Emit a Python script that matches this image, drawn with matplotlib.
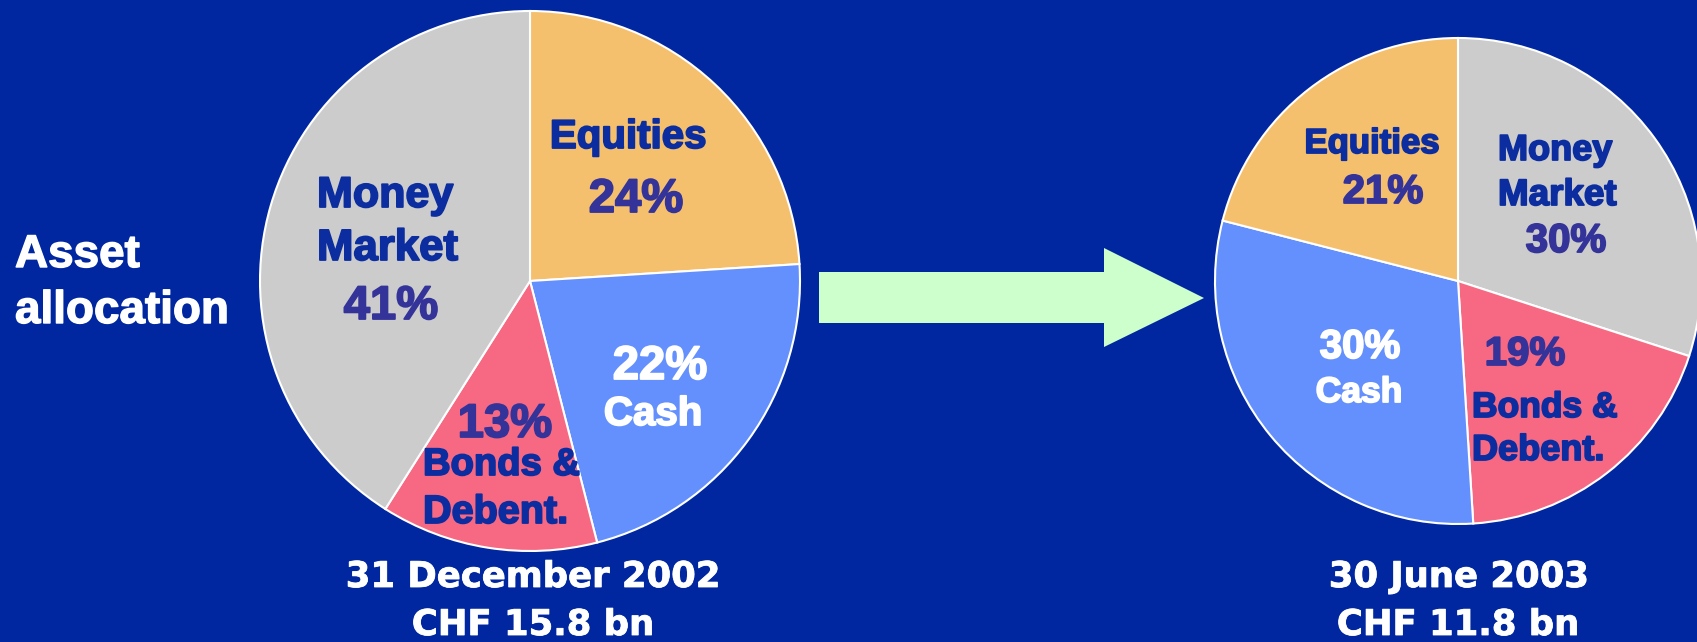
import matplotlib
matplotlib.use("Agg")
import matplotlib.pyplot as plt
import matplotlib.patheffects as pe
from matplotlib.patches import Polygon

# data
dates = ["31 December 2002", "30 June 2003"]
totals = ["CHF 15.8 bn", "CHF 11.8 bn"]

# slices listed clockwise from 12 o'clock
cats_2002 = ["Equities", "Cash", "Bonds & Debent.", "Money Market"]
vals_2002 = [24, 22, 13, 41]
cats_2003 = ["Money Market", "Bonds & Debent.", "Cash", "Equities"]
vals_2003 = [30, 19, 30, 21]

colors = {
    "Equities": "#F5C06E",
    "Cash": "#6390FD",
    "Bonds & Debent.": "#F76983",
    "Money Market": "#CCCCCC",
}
bg = "#0027A0"
dark = "#0B2DA0"
purple = "#333399"

W, H = 1697, 642
plt.rcParams["font.family"] = ["Liberation Sans", "DejaVu Sans"]
plt.rcParams["font.weight"] = "bold"

fig = plt.figure(figsize=(W / 100, H / 100), dpi=100, facecolor=bg)
ax = fig.add_axes([0, 0, 1, 1])
ax.set_facecolor(bg)


def Y(y):
    # pixel row (top-down) -> data y
    return H - y


def txt(x, y, s, size, color, ha="center", family=None, stroke=1.3):
    kw = {}
    if family:
        kw["family"] = family
    t = ax.text(x, Y(y), s, fontsize=size, color=color, ha=ha,
                va="baseline", fontweight="bold", **kw)
    if stroke:
        t.set_path_effects([pe.withStroke(linewidth=stroke, foreground=color)])


wp = dict(edgecolor="white", linewidth=1.5)
ax.pie(vals_2002, colors=[colors[c] for c in cats_2002], startangle=90,
       counterclock=False, center=(530, Y(281)), radius=270, wedgeprops=wp)
ax.pie(vals_2003, colors=[colors[c] for c in cats_2003], startangle=90,
       counterclock=False, center=(1458, Y(281)), radius=243, wedgeprops=wp)

# arrow
arrow = [(819, 272), (1104, 272), (1104, 248), (1204, 298),
         (1104, 347), (1104, 323), (819, 323)]
ax.add_patch(Polygon([(x, Y(y)) for x, y in arrow], closed=True,
                     facecolor="#CCFFCC", edgecolor="none"))

# side title
txt(15, 267, "Asset", 33, "white", ha="left", stroke=1.0)
txt(15, 323, "allocation", 33, "white", ha="left", stroke=1.0)

v1 = dict(zip(cats_2002, vals_2002))
v2 = dict(zip(cats_2003, vals_2003))

# left pie labels
txt(628, 148, "Equities", 29, dark)
txt(636, 212, f"{v1['Equities']}%", 34, purple)
txt(317, 207, "Money", 31, dark, ha="left")
txt(317, 260, "Market", 31.5, dark, ha="left")
txt(391, 319, f"{v1['Money Market']}%", 34, purple)
txt(660, 379, f"{v1['Cash']}%", 34, "white")
txt(653, 425, "Cash", 29, "white")
txt(505, 437, f"{v1['Bonds & Debent.']}%", 34, purple)
txt(423, 475, "Bonds &", 27.5, dark, ha="left")
txt(423, 523, "Debent.", 28.5, dark, ha="left")

# right pie labels
txt(1372, 153, "Equities", 25, dark)
txt(1383, 203, f"{v2['Equities']}%", 29, purple)
txt(1498, 160, "Money", 26, dark, ha="left")
txt(1498, 205, "Market", 26.5, dark, ha="left")
txt(1566, 252, f"{v2['Money Market']}%", 29, purple)
txt(1360, 358, f"{v2['Cash']}%", 29, "white")
txt(1359, 402, "Cash", 25.5, "white")
txt(1525, 365, f"{v2['Bonds & Debent.']}%", 29, purple)
txt(1472, 417, "Bonds &", 25.5, dark, ha="left")
txt(1472, 460, "Debent.", 26, dark, ha="left")

# dates and totals
dj = ["DejaVu Sans"]
txt(533, 587, dates[0], 25.5, "white", family=dj, stroke=0.6)
txt(533, 635, totals[0], 25.5, "white", family=dj, stroke=0.6)
txt(1459, 587, dates[1], 25.5, "white", family=dj, stroke=0.6)
txt(1458, 635, totals[1], 25.5, "white", family=dj, stroke=0.6)

ax.set_xlim(0, W)
ax.set_ylim(0, H)
ax.set_aspect("equal")
ax.axis("off")

fig.savefig("out.png", dpi=100, facecolor=bg)
